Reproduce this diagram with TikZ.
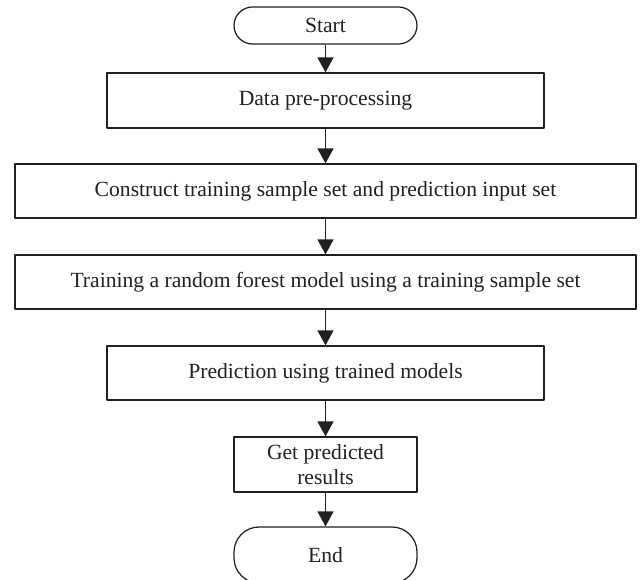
\documentclass[tikz,border=0pt]{standalone}
\usepackage{fontspec}
\setmainfont{Liberation Serif}
\usetikzlibrary{arrows.meta}
\definecolor{ink}{HTML}{231F20}
\begin{document}
\begin{tikzpicture}[x=0.02cm, y=-0.02cm, >={Triangle[length=0.3cm,width=0.32cm]},
		font=\fontsize{12.3}{14.2}\selectfont, line join=round,
		flowbox/.style={draw=ink, line width=0.7pt, inner sep=0pt, text=ink, align=center},
		flowline/.style={->, draw=ink, line width=0.7pt}]
		\def\cx{325.5} % centre line
		\useasboundingbox (0,0) rectangle (641,580);
		\clip (0,0) rectangle (641,580);
		\node[flowbox, minimum width=3.66cm, minimum height=0.74cm, rounded corners=0.37cm] (start) at (\cx,25.5) {Start};
		\node[flowbox, minimum width=8.74cm, minimum height=1.1cm] (prep) at (\cx,100.5) {Data pre-processing};
		\node[flowbox, minimum width=12.42cm, minimum height=1.08cm] (construct) at (\cx,191) {Construct training sample set and prediction input set};
		\node[flowbox, minimum width=12.42cm, minimum height=1.08cm] (train) at (\cx,282) {Training a random forest model using a training sample set};
		\node[flowbox, minimum width=8.74cm, minimum height=1.08cm] (predict) at (\cx,373) {Prediction using trained models};
		\node[flowbox, minimum width=3.66cm, minimum height=1.1cm] (results) at (\cx,464.5) {Get predicted\\results};
		\node[flowbox, minimum width=3.66cm, minimum height=1.12cm, rounded corners=0.5cm] (end) at (\cx,555) {End};
		\foreach \a/\b in {start/prep, prep/construct, construct/train, train/predict, predict/results, results/end}
			\draw[flowline] (\a) -- (\b);
\end{tikzpicture}
\end{document}
